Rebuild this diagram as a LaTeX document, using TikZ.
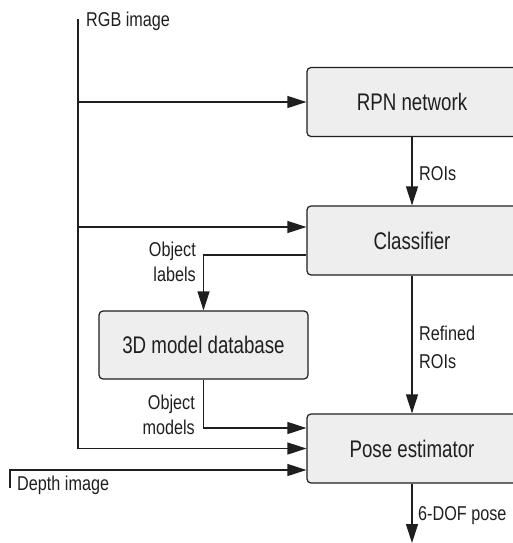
\documentclass[tikz,border=0pt]{standalone}
\usepackage{fontspec}
\setmainfont{Liberation Sans}[FakeStretch=0.81]
\newfontfamily\stagefont{Liberation Sans}[FakeStretch=0.78]
\usetikzlibrary{arrows.meta}
\definecolor{boxfill}{HTML}{EEEEEE}
\definecolor{ink}{HTML}{1F1F1F}
\begin{document}
\begin{tikzpicture}[x=1pt,y=-1pt,
  stage/.style={draw=ink, fill=boxfill, rounded corners=4pt, line width=1.2pt,
    minimum width=210pt, minimum height=69pt, inner sep=0pt,
    font=\stagefont\fontsize{24}{28}\selectfont, text=ink},
  lbl/.style={inner sep=0pt, font=\fontsize{20}{25}\selectfont, text=ink},
  flow/.style={draw=ink, line width=1.2pt, -{Triangle[length=19pt,width=12pt]}},
  wire/.style={draw=ink, line width=1.2pt}]
\useasboundingbox (0,0) rectangle (512,543);

% processing stages
\node[stage] (rpn)  at (412,102)   {RPN network};
\node[stage] (cls)  at (412,240.5) {Classifier};
\node[stage, minimum width=209pt, minimum height=68pt] (db) at (203.5,345) {3D model database};
\node[stage] (pose) at (412,448.5) {Pose estimator};

% RGB input bus
\coordinate (rgbtop) at (78,19);
\coordinate (rgbA) at (78,102);
\coordinate (rgbB) at (78,227);
\coordinate (rgbC) at (78,448.5);
\draw[wire] (rgbtop) -- (rgbC);
\draw[flow] (rgbA) -- (rpn.west);
\draw[flow] (rgbB) -- (rgbB -| cls.west);
\draw[flow] (rgbC) -- (pose.west);

% main chain
\draw[flow] (rpn.south) -- (cls.north);
\draw[flow] (cls.south) -- (pose.north);
\draw[flow] ([yshift=-14.5pt]cls.west) -| (db.north);
\draw[flow] (db.south) |- ([yshift=20.5pt]pose.west);

% depth input and output
\coordinate (depth) at (10,488);
\draw[flow] (depth) |- ([yshift=-21.5pt]pose.west);
\coordinate (out) at (412,543);
\draw[flow] (pose.south) -- (out);

% labels
\node[lbl, anchor=base west] (lrgb) at (86,27) {RGB image};
\node[lbl, anchor=base west] (lroi) at (419,180) {ROIs};
\node[lbl, anchor=east, align=right] (llab) at (196,262) {Object\\labels};
\node[lbl, anchor=west, align=left, font=\fontsize{20}{28}\selectfont] (lref) at (419,347) {Refined\\ROIs};
\node[lbl, anchor=east, align=right] (lmod) at (195,415) {Object\\models};
\node[lbl, anchor=base west] (ldep) at (17,490) {Depth image};
\node[lbl, anchor=base west] (lout) at (418,520) {6-DOF pose};
\end{tikzpicture}
\end{document}
